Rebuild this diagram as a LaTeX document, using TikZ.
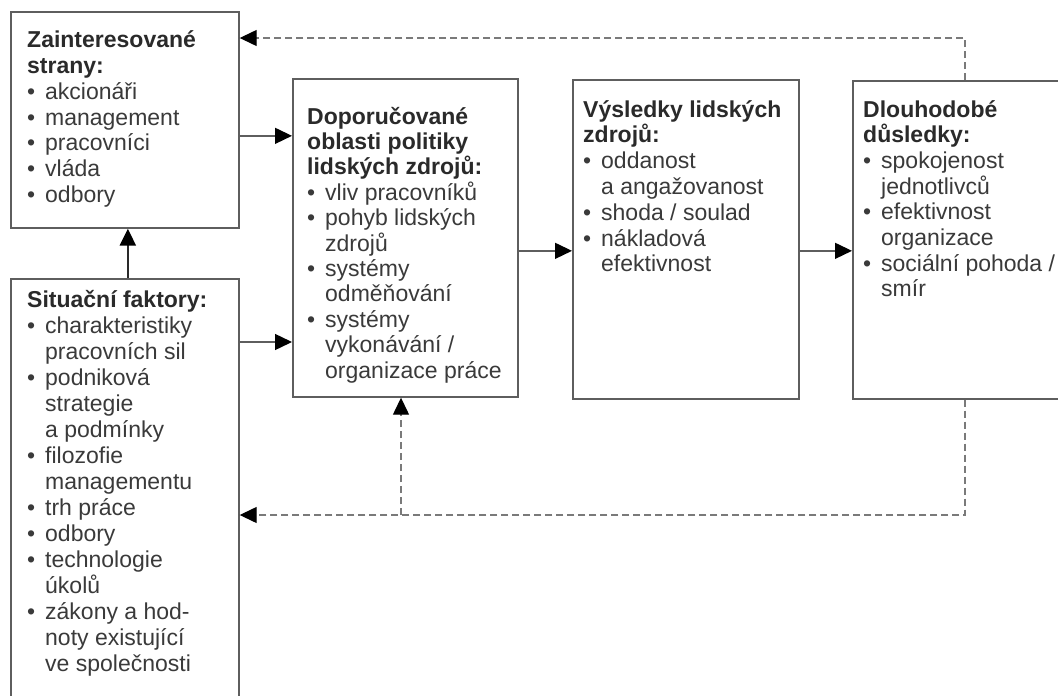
\documentclass[tikz,border=0pt]{standalone}
\usepackage{fontspec}
\setmainfont{Liberation Sans}
\usetikzlibrary{arrows.meta}
\definecolor{txt}{HTML}{3A3A3A}
\definecolor{hd}{HTML}{2A2A2A}
\definecolor{ln}{HTML}{5E5E5E}
\definecolor{dl}{HTML}{7A7A7A}
\newcommand{\bl}[1]{\par\hangindent=18pt\hangafter=1\noindent\makebox[18pt][l]{\textbullet}#1}
\newcommand{\hd}[1]{\leavevmode{\color{hd}\bfseries #1}}
\begin{document}
\begin{tikzpicture}[x=1pt,y=-1pt,
  boxn/.style={draw=ln, line width=1.7pt, inner sep=0pt, anchor=north west, fill=none},
  tx/.style={anchor=base west, inner sep=0pt, text=txt},
  arr/.style={draw=ln, line width=1.4pt, -{Triangle[length=17pt,width=16pt,color=black]}},
  arrthick/.style={draw=hd, line width=2.4pt, -{Triangle[length=17pt,width=16pt,color=black]}},
  darr/.style={draw=dl, line width=1.3pt, dash pattern=on 7pt off 4pt, -{Triangle[length=17pt,width=16pt,color=black]}},
  dln/.style={draw=dl, line width=1.3pt, dash pattern=on 7pt off 4pt}]
\useasboundingbox (0,0) rectangle (1058,696);
\fill[white] (0,0) rectangle (1058,696);
% boxes
\node[boxn, minimum width=228pt, minimum height=216pt] (A) at (10,11) {};
\node[boxn, minimum width=228pt, minimum height=440pt] (S) at (10,278) {};
\node[boxn, minimum width=225pt, minimum height=318pt] (D) at (292,78) {};
\node[boxn, minimum width=226pt, minimum height=319pt] (V) at (572,79) {};
\node[boxn, minimum width=230pt, minimum height=318pt] (L) at (852,80) {};
% texts
\node[tx] (tA) at (27,47) {\parbox[t]{210pt}{\fontsize{23}{26}\selectfont
  \hd{Zainteresované\\strany:}
  \bl{akcionáři}
  \bl{management}
  \bl{pracovníci}
  \bl{vláda}
  \bl{odbory}}};
\node[tx] (tS) at (27,307) {\parbox[t]{210pt}{\fontsize{23}{26}\selectfont
  \hd{Situační faktory:}
  \bl{charakteristiky\\pracovních sil}
  \bl{podniková\\strategie\\a podmínky}
  \bl{filozofie\\managementu}
  \bl{trh práce}
  \bl{odbory}
  \bl{technologie\\úkolů}
  \bl{zákony a hod-\\noty existující\\ve společnosti}}};
\node[tx] (tD) at (307,124) {\parbox[t]{210pt}{\fontsize{23}{25.4}\selectfont
  \hd{Doporučované\\oblasti politiky\\lidských zdrojů:}
  \bl{vliv pracovníků}
  \bl{pohyb lidských\\zdrojů}
  \bl{systémy\\odměňování}
  \bl{systémy\\vykonávání /\\organizace práce}}};
\node[tx] (tV) at (583,117) {\parbox[t]{210pt}{\fontsize{23}{25.8}\selectfont
  \hd{Výsledky lidských\\zdrojů:}
  \bl{oddanost\\a angažovanost}
  \bl{shoda / soulad}
  \bl{nákladová\\efektivnost}}};
\node[tx] (tL) at (863,117) {\parbox[t]{210pt}{\fontsize{23}{25.7}\selectfont
  \hd{Dlouhodobé\\důsledky:}
  \bl{spokojenost\\jednotlivců}
  \bl{efektivnost\\organizace}
  \bl{sociální pohoda /\\smír}}};
% solid connectors
\coordinate (a1) at ([yshift=-16pt]A.east);
\draw[arr] (a1) -- (a1 -| D.west);
\coordinate (s1) at ([yshift=-64pt]S.north east);
\draw[arr] (s1) -- (s1 -| D.west);
\coordinate (d1) at ([yshift=-13pt]D.east);
\draw[arr] (d1) -- (d1 -| V.west);
\coordinate (v1) at ([yshift=-11.5pt]V.east);
\draw[arr] (v1) -- (v1 -| L.west);
\draw[arrthick] ([xshift=3pt]S.north) -- ([xshift=3pt]A.south);
% dashed feedback
\coordinate (l1) at ([xshift=113pt]L.north west);
\coordinate (a2) at ([yshift=-27pt]A.north east);
\draw[darr] (l1) |- (a2);
\coordinate (l2) at ([xshift=113pt]L.south west);
\coordinate (s2) at ([yshift=-237pt]S.north east);
\draw[darr] (l2) |- (s2);
\coordinate (d2) at ([xshift=109pt]D.south west);
\draw[darr] (d2 |- s2) -- (d2);
\end{tikzpicture}
\end{document}
